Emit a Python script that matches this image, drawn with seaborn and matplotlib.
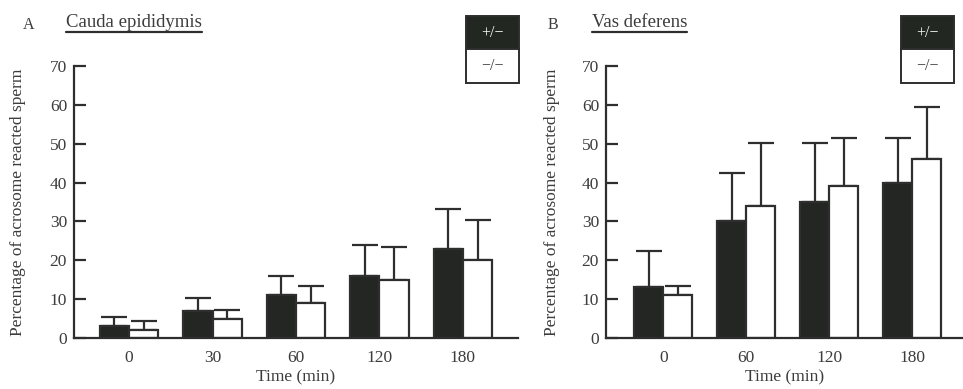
import matplotlib
matplotlib.use("Agg")
import matplotlib.pyplot as plt
import seaborn as sns
import pandas as pd
from matplotlib.patches import Rectangle
from matplotlib.lines import Line2D

# ---- data ----
genotypes = ["+/\u2212", "\u2212/\u2212"]

times_a = ["0", "30", "60", "120", "180"]
het_a = [3.0, 7.0, 11.0, 16.0, 23.0]
het_a_top = [5.3, 10.3, 16.0, 24.0, 33.3]
ko_a = [2.0, 5.0, 9.0, 15.0, 20.0]
ko_a_top = [4.3, 7.3, 13.3, 23.3, 30.3]

times_b = ["0", "60", "120", "180"]
het_b = [13.0, 30.0, 35.0, 40.0]
het_b_top = [22.3, 42.5, 50.3, 51.5]
ko_b = [11.0, 34.0, 39.0, 46.0]
ko_b_top = [13.3, 50.3, 51.5, 59.5]

y_ticks = [0, 10, 20, 30, 40, 50, 60, 70]

# ---- style ----
sns.set_theme(style="white")
plt.rcParams["font.family"] = ["Liberation Serif", "DejaVu Serif"]
DARK = "#222722"
INK = "#2e2e2e"
TXT = "#3c3c3c"

fig = plt.figure(figsize=(9.63, 3.89), dpi=100)
W, H = 963.0, 389.0


def make_df(times, het, ko):
    rows = []
    for t, v in zip(times, het):
        rows.append({"time": t, "value": v, "genotype": genotypes[0]})
    for t, v in zip(times, ko):
        rows.append({"time": t, "value": v, "genotype": genotypes[1]})
    return pd.DataFrame(rows)


def panel(rect, times, het, het_top, ko, ko_top, xlim, label_x):
    ax = fig.add_axes(rect)
    df = make_df(times, het, ko)
    sns.barplot(data=df, x="time", y="value", hue="genotype", order=times,
                hue_order=genotypes,
                palette={genotypes[0]: DARK, genotypes[1]: "white"},
                edgecolor=INK, linewidth=1.6, width=0.7, errorbar=None,
                legend=False, ax=ax)
    for cont, means, tops in zip(ax.containers, [het, ko], [het_top, ko_top]):
        xs = [b.get_x() + b.get_width() / 2 for b in cont]
        up = [t - m for m, t in zip(means, tops)]
        ax.errorbar(xs, means, yerr=[[0] * len(means), up], fmt="none",
                    ecolor=INK, elinewidth=1.6, capsize=9.5, capthick=1.6,
                    zorder=1)
    for b in ax.patches:
        b.set_zorder(2)
    ax.set_xlim(*xlim)
    ax.set_ylim(0, 70)
    ax.set_yticks(y_ticks)
    sns.despine(ax=ax)
    for s in ["left", "bottom"]:
        ax.spines[s].set_color(INK)
        ax.spines[s].set_linewidth(1.6)
    ax.tick_params(axis="y", direction="in", length=8.5, width=1.6,
                   color=INK, pad=5, labelsize=12.5, labelcolor=TXT, left=True)
    ax.tick_params(axis="x", length=0, pad=9, labelsize=12.5, labelcolor=TXT)
    ax.set_xlabel("Time (min)", fontsize=12.5, color=TXT, labelpad=2)
    ax.set_ylabel("Percentage of acrosome reacted sperm", fontsize=12.5,
                  color=TXT)
    ax.yaxis.set_label_coords(label_x, 0.5)
    return ax


ax_a = panel([74 / W, 51 / H, 444 / W, 272 / H], times_a, het_a, het_a_top,
             ko_a, ko_a_top, (-0.66, 4.66), -0.108)
ax_b = panel([606 / W, 51 / H, 357 / W, 272 / H], times_b, het_b, het_b_top,
             ko_b, ko_b_top, (-0.69, 3.61), -0.128)

# panel letters and underlined titles
fig.text(23 / W, 1 - 29 / H, "A", fontsize=11.5, color=TXT, va="baseline")
fig.text(548 / W, 1 - 29 / H, "B", fontsize=11.5, color=TXT, va="baseline")
t_a = fig.text(66 / W, 1 - 27 / H, "Cauda epididymis", fontsize=13.5,
               color=TXT, va="baseline")
t_b = fig.text(592 / W, 1 - 27 / H, "Vas deferens", fontsize=13.5,
               color=TXT, va="baseline")
fig.canvas.draw()
r = fig.canvas.get_renderer()
for t in (t_a, t_b):
    bb = t.get_window_extent(r)
    y = bb.y0 - 0.5
    fig.add_artist(Line2D([bb.x0 / W, bb.x1 / W], [y / H, y / H],
                          color=INK, lw=1.6, transform=fig.transFigure))


def legend_box(x0):
    w = 53 / W
    h = 33.5 / H
    ytop = 1 - 16 / H
    fig.add_artist(Rectangle((x0, ytop - h), w, h, transform=fig.transFigure,
                             facecolor=DARK, edgecolor=INK, lw=1.4))
    fig.add_artist(Rectangle((x0, ytop - 2 * h), w, h,
                             transform=fig.transFigure, facecolor="white",
                             edgecolor=INK, lw=1.4))
    fig.text(x0 + w / 2, ytop - h / 2, genotypes[0], color="white",
             fontsize=11.5, ha="center", va="center")
    fig.text(x0 + w / 2, ytop - 1.5 * h, genotypes[1], color=TXT,
             fontsize=11.5, ha="center", va="center")


legend_box(466 / W)
legend_box(901 / W)

fig.savefig("out.png", dpi=100, facecolor="white")
